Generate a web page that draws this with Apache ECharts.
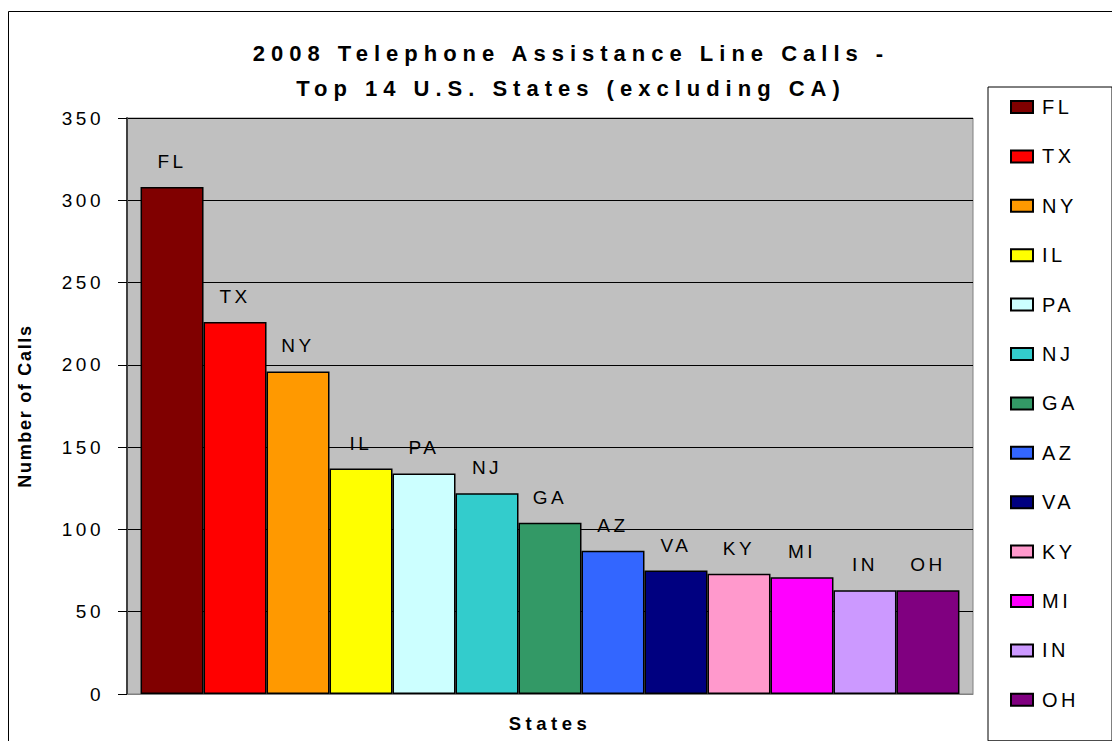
<!DOCTYPE html>
<html>
<head>
<meta charset="utf-8">
<script src="https://cdn.jsdelivr.net/npm/echarts@6/dist/echarts.min.js"></script>
<style>
  html, body { margin: 0; padding: 0; background: #fff; }
  #chart { width: 1112px; height: 741px; }
  /* the original chart has wide letter spacing on most text */
  #chart text { letter-spacing: 3.5px; }
  #chart text[style*="22px"] { letter-spacing: 6px; }
  #chart text[style*="18px"] { letter-spacing: 1.7px; }
  #chart text[style*="18.5px"] { letter-spacing: 4.5px; }
</style>
</head>
<body>
<div id="chart"></div>
<script>
// states in legend order, calls per state, bar colours
const states = ['FL', 'TX', 'NY', 'IL', 'PA', 'NJ', 'GA', 'AZ', 'VA', 'KY', 'MI', 'IN', 'OH'];
const calls = [308, 226, 196, 137, 134, 122, 104, 87, 75, 73, 71, 63, 63];
const colors = ['#800000', '#ff0000', '#ff9900', '#ffff00', '#ccffff', '#33cccc', '#339966',
  '#3366ff', '#000080', '#ff99cc', '#ff00ff', '#cc99ff', '#800080'];
const yTicks = { min: 0, max: 350, step: 50 };

const FONT = 'Liberation Sans, Arial, sans-serif';

const myChart = echarts.init(document.getElementById('chart'), null, { renderer: 'svg' });

const series = states.map((s, i) => ({
  name: s,
  type: 'bar',
  data: [calls[i]],
  barGap: '0%',
  barCategoryGap: '3.2%',
  itemStyle: { color: colors[i], borderColor: '#000', borderWidth: 1.5 },
  label: {
    show: true,
    position: 'top',
    distance: 16,
    formatter: '{a}',
    color: '#000',
    fontFamily: FONT,
    fontSize: 19
  },
  emphasis: { disabled: true }
}));

const option = {
  animation: false,
  backgroundColor: '#fff',
  title: {
    text: '2008 Telephone Assistance Line Calls -\nTop 14 U.S. States (excluding CA)',
    left: 566,
    top: 31,
    textAlign: 'center',
    textStyle: {
      fontFamily: FONT,
      fontWeight: 'bold',
      fontSize: 22,
      lineHeight: 35,
      color: '#000'
    }
  },
  legend: {
    orient: 'vertical',
    left: 988,
    top: 87,
    padding: [10, 40, 31, 22],
    itemWidth: 22,
    itemHeight: 12,
    itemGap: 29.4,
    icon: 'rect',
    borderColor: '#000',
    borderWidth: 1,
    textStyle: { fontFamily: FONT, fontSize: 20, color: '#000', padding: [0, 0, 0, 4] },
    selectedMode: false,
    data: states
  },
  grid: {
    left: 127,
    right: 139,
    top: 118,
    bottom: 47,
    show: true,
    backgroundColor: '#c0c0c0',
    borderColor: '#808080',
    borderWidth: 1
  },
  xAxis: {
    type: 'category',
    data: [''],
    name: 'States',
    nameLocation: 'middle',
    nameGap: 20,
    nameTextStyle: { fontFamily: FONT, fontWeight: 'bold', fontSize: 18.5, color: '#000' },
    axisLine: { show: true, lineStyle: { color: '#808080', width: 1 } },
    axisTick: { show: false },
    axisLabel: { show: false }
  },
  yAxis: {
    type: 'value',
    min: yTicks.min,
    max: yTicks.max,
    interval: yTicks.step,
    name: 'Number of Calls',
    nameLocation: 'middle',
    nameGap: 93,
    nameTextStyle: { fontFamily: FONT, fontWeight: 'bold', fontSize: 18, color: '#000' },
    axisLine: { show: true, lineStyle: { color: '#404040', width: 2 } },
    axisTick: { show: true, inside: false, length: 9, lineStyle: { color: '#000', width: 1 } },
    axisLabel: { margin: 23, fontFamily: FONT, fontSize: 19, color: '#000' },
    splitLine: { show: true, lineStyle: { color: '#000', width: 1 } }
  },
  graphic: [{
    type: 'rect',
    shape: { x: 8.5, y: 11.5, width: 1200, height: 800 },
    style: { fill: null, stroke: '#000', lineWidth: 1 },
    silent: true,
    z: -1
  }],
  series: series
};

myChart.setOption(option);
</script>
</body>
</html>
